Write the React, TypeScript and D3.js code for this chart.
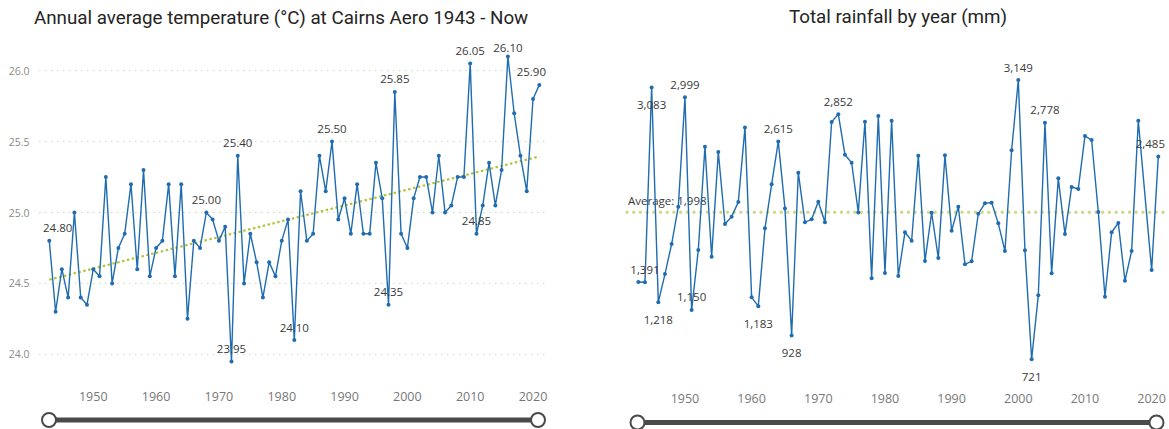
import React, { useEffect, useRef } from 'react';
import * as d3 from 'd3';

// years 1943 - 2021
const years = [
  1943, 1944, 1945, 1946, 1947, 1948, 1949, 1950, 1951, 1952,
  1953, 1954, 1955, 1956, 1957, 1958, 1959, 1960, 1961, 1962,
  1963, 1964, 1965, 1966, 1967, 1968, 1969, 1970, 1971, 1972,
  1973, 1974, 1975, 1976, 1977, 1978, 1979, 1980, 1981, 1982,
  1983, 1984, 1985, 1986, 1987, 1988, 1989, 1990, 1991, 1992,
  1993, 1994, 1995, 1996, 1997, 1998, 1999, 2000, 2001, 2002,
  2003, 2004, 2005, 2006, 2007, 2008, 2009, 2010, 2011, 2012,
  2013, 2014, 2015, 2016, 2017, 2018, 2019, 2020, 2021,
];

const tempValues = [
  24.8, 24.3, 24.6, 24.4, 25.0, 24.4, 24.35, 24.6, 24.55, 25.25,
  24.5, 24.75, 24.85, 25.2, 24.6, 25.3, 24.55, 24.75, 24.8, 25.2,
  24.55, 25.2, 24.25, 24.8, 24.75, 25.0, 24.95, 24.8, 24.9, 23.95,
  25.4, 24.5, 24.85, 24.65, 24.4, 24.65, 24.55, 24.8, 24.95, 24.1,
  25.15, 24.8, 24.85, 25.4, 25.15, 25.5, 24.95, 25.1, 24.85, 25.2,
  24.85, 24.85, 25.35, 25.1, 24.35, 25.85, 24.85, 24.75, 25.1, 25.25,
  25.25, 25.0, 25.4, 25.0, 25.05, 25.25, 25.25, 26.05, 24.85, 25.05,
  25.35, 25.05, 25.3, 26.1, 25.7, 25.4, 25.15, 25.8, 25.9,
];

// null = no value for that year
const rainValues = [
  1393, 1391, 3083, 1218, 1462, 1723, 2048, 2999, 1150, 1671,
  2569, 1613, 2523, 1897, 1961, 2088, 2735, 1260, 1183, 1860,
  2242, 2615, 2033, 928, 2343, 1912, 1938, 2091, 1912, 2784,
  2852, 2500, 2430, 1998, 2787, 1425, 2836, 1471, 2795, 1445,
  1825, 1752, 2491, 1575, 1995, 1602, 2494, 1839, 2048, 1547,
  1573, 1987, 2077, 2083, 1903, 1662, 2538, 3149, 1668, 721,
  1277, 2778, 1469, 2294, 1810, 2219, 2202, 2662, 2627, 2001,
  1265, 1825, 1906, 1404, 1662, 2795, null, 1497, 2485,
];

const yearTicks = [1950, 1960, 1970, 1980, 1990, 2000, 2010, 2020];
const tempTicks = [24.0, 24.5, 25.0, 25.5, 26.0];

const tempLabelYears = [1943, 1968, 1972, 1973, 1982, 1988, 1997, 1998, 2010, 2011, 2016, 2021];
const rainLabelYears = [1944, 1945, 1946, 1950, 1951, 1961, 1964, 1966, 1973, 2000, 2002, 2004, 2021];
const rainLabelsBelow = [1945, 1946, 1961, 1966, 2002];

const tempTitle = 'Annual average temperature (°C) at Cairns Aero 1943 - Now';
const rainTitle = 'Total rainfall by year (mm)';

const BLUE = '#1f6cb0';
const FONT = '"Open Sans", "Noto Sans", sans-serif';

const App = () => {
  const svgRef = useRef<SVGSVGElement>(null);

  useEffect(() => {
    document.body.style.margin = '0';
    const svg = d3.select(svgRef.current).html('');

    const addLabels = (g, pts, labelYears, below, xs, ys, fmt, bounds) => {
      pts
        .filter(d => labelYears.includes(d.year))
        .forEach(d => {
          const under = below.includes(d.year);
          const t = g.append('text')
            .attr('x', xs(d.year))
            .attr('y', Math.max(bounds.minY, ys(d.value) + (under ? 17 : -13)))
            .attr('text-anchor', 'middle')
            .attr('dominant-baseline', 'central')
            .style('font-family', FONT)
            .style('font-size', '11.5px')
            .style('fill', '#3a3a3a')
            .text(fmt(d.value));
          const w = (t.node() as SVGTextElement).getComputedTextLength();
          const cx = xs(d.year);
          if (cx + w / 2 > bounds.maxX) t.attr('x', bounds.maxX - w / 2);
          if (cx - w / 2 < bounds.minX) t.attr('x', bounds.minX + w / 2);
        });
    };

    const drawSlider = (x1, x2, y) => {
      svg.append('line')
        .attr('x1', x1).attr('x2', x2).attr('y1', y).attr('y2', y)
        .attr('stroke', '#4a4a4a').attr('stroke-width', 5);
      [x1, x2].forEach(cx => {
        svg.append('circle')
          .attr('cx', cx).attr('cy', y).attr('r', 7)
          .attr('fill', '#fff').attr('stroke', '#4a4a4a').attr('stroke-width', 2);
      });
    };

    // ---------- temperature ----------
    const temp = years.map((year, i) => ({ year, value: tempValues[i] }));
    const x1 = d3.scaleLinear().domain([1943, 2021]).range([49.3, 539.3]);
    const y1 = d3.scaleLinear().domain([24, 26]).range([354.3, 70.7]);
    const left = svg.append('g');

    left.append('text')
      .attr('x', 34).attr('y', 18)
      .attr('dominant-baseline', 'central')
      .style('font-family', 'Roboto, sans-serif')
      .style('font-size', '18.8px')
      .style('fill', '#252423')
      .text(tempTitle);

    tempTicks.forEach(t => {
      left.append('line')
        .attr('x1', 39).attr('x2', 548)
        .attr('y1', y1(t)).attr('y2', y1(t))
        .attr('stroke', '#c6dbbd')
        .attr('stroke-dasharray', '1.5,4.5');
      left.append('text')
        .attr('x', 29.5).attr('y', y1(t))
        .attr('text-anchor', 'end')
        .attr('dominant-baseline', 'central')
        .style('font-family', FONT)
        .style('font-size', '10.5px')
        .style('fill', '#8a8a8a')
        .text(d3.format('.1f')(t));
    });

    yearTicks.forEach(t => {
      left.append('text')
        .attr('x', x1(t)).attr('y', 396)
        .attr('text-anchor', 'middle')
        .attr('dominant-baseline', 'central')
        .style('font-family', FONT)
        .style('font-size', '12.5px')
        .style('fill', '#777')
        .text(t);
    });

    // least squares trend
    const mx = d3.mean(temp, d => d.year);
    const my = d3.mean(temp, d => d.value);
    const slope = d3.sum(temp, d => (d.year - mx) * (d.value - my)) / d3.sum(temp, d => (d.year - mx) ** 2);
    const trend = [1943, 2021].map(yr => ({ year: yr, value: my + slope * (yr - mx) }));
    left.append('path')
      .datum(trend)
      .attr('fill', 'none')
      .attr('stroke', '#b3c13b')
      .attr('stroke-width', 2.2)
      .attr('stroke-dasharray', '2.5,2.5')
      .attr('d', d3.line().x(d => x1(d.year)).y(d => y1(d.value)));

    left.append('path')
      .datum(temp)
      .attr('fill', 'none')
      .attr('stroke', BLUE)
      .attr('stroke-width', 1.4)
      .attr('d', d3.line().x(d => x1(d.year)).y(d => y1(d.value)));

    left.selectAll('circle.pt')
      .data(temp)
      .join('circle')
      .attr('class', 'pt')
      .attr('cx', d => x1(d.year))
      .attr('cy', d => y1(d.value))
      .attr('r', 2)
      .attr('fill', BLUE);

    addLabels(left, temp, tempLabelYears, [], x1, y1, d3.format('.2f'), { minX: 43, maxX: 546, minY: 47.5 });

    drawSlider(49, 538, 420);

    // ---------- rainfall ----------
    const rain = years
      .map((year, i) => ({ year, value: rainValues[i] }))
      .filter(d => d.value != null);
    const x2 = d3.scaleLinear().domain([1943, 2021]).range([638.3, 1158.3]);
    const y2 = d3.scaleLinear().domain(d3.extent(rain, d => d.value)).range([359.3, 80]);
    const right = svg.append('g');

    right.append('text')
      .attr('x', 898).attr('y', 17)
      .attr('text-anchor', 'middle')
      .attr('dominant-baseline', 'central')
      .style('font-family', 'Roboto, sans-serif')
      .style('font-size', '18.8px')
      .style('fill', '#252423')
      .text(rainTitle);

    yearTicks.forEach(t => {
      right.append('text')
        .attr('x', x2(t)).attr('y', 398.5)
        .attr('text-anchor', 'middle')
        .attr('dominant-baseline', 'central')
        .style('font-family', FONT)
        .style('font-size', '12.5px')
        .style('fill', '#777')
        .text(t);
    });

    const avg = d3.mean(rain, d => d.value);
    right.append('line')
      .attr('x1', 627).attr('x2', 1169)
      .attr('y1', y2(avg)).attr('y2', y2(avg))
      .attr('stroke', '#d0d98f')
      .attr('stroke-width', 3.5)
      .attr('stroke-linecap', 'round')
      .attr('stroke-dasharray', '0,6.7');
    right.append('text')
      .attr('x', 628).attr('y', y2(avg) - 11.5)
      .attr('dominant-baseline', 'central')
      .style('font-family', FONT)
      .style('font-size', '11.5px')
      .style('fill', '#3a3a3a')
      .text(`Average: ${d3.format(',.0f')(avg)}`);

    right.append('path')
      .datum(rain)
      .attr('fill', 'none')
      .attr('stroke', BLUE)
      .attr('stroke-width', 1.4)
      .attr('d', d3.line().x(d => x2(d.year)).y(d => y2(d.value)));

    right.selectAll('circle.pt')
      .data(rain)
      .join('circle')
      .attr('class', 'pt')
      .attr('cx', d => x2(d.year))
      .attr('cy', d => y2(d.value))
      .attr('r', 2)
      .attr('fill', BLUE);

    addLabels(right, rain, rainLabelYears, rainLabelsBelow, x2, y2, d3.format(',.0f'), { minX: 600, maxX: 1165, minY: 60 });

    drawSlider(637.5, 1156.5, 422.5);
  }, []);

  return <svg ref={svgRef} width={1169} height={429} style={{ display: 'block', background: '#fff' }} />;
};

export default App;
